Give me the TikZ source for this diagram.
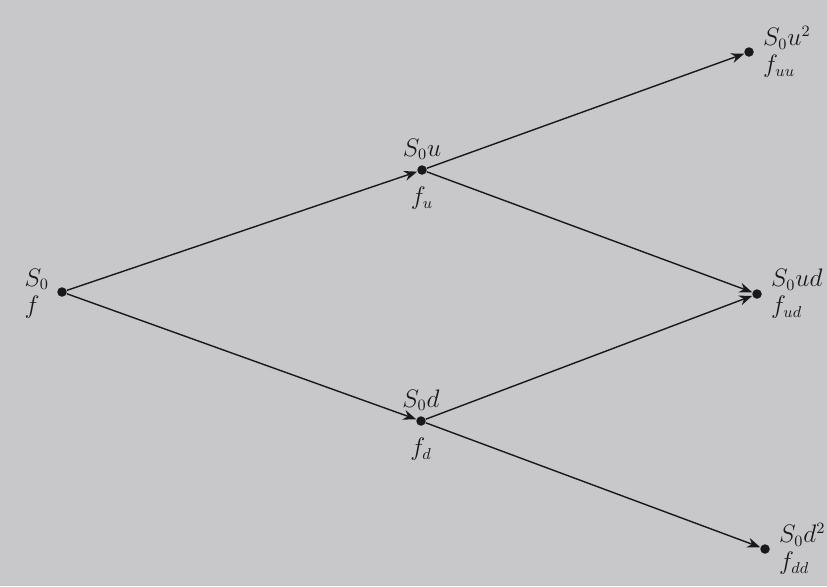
\documentclass[tikz,border=0pt]{standalone}
\usepackage{tikz}
\usepackage{amsmath}
\usetikzlibrary{arrows.meta,positioning}
\definecolor{PaperGray}{RGB}{200,199,201}
\definecolor{InkDark}{RGB}{25,25,28}

\begin{document}
\begin{tikzpicture}[
  x=0.02cm, y=-0.02cm,
  node distance=0.1cm and 0.12cm,
  dot/.style={
    circle, fill=InkDark, draw=none, inner sep=0pt, minimum size=0.19cm
  },
  vallabel/.style={
    inner sep=1pt, align=left, text=InkDark, font=\fontsize{13.5}{15.5}\selectfont
  },
  arr/.style={-{Stealth[length=2.6mm,width=2mm]}, line width=0.8pt, InkDark}
]

% --- Background (photographed page)
\fill[PaperGray] (0,0) rectangle (827,586);
\useasboundingbox (0,0) rectangle (827,586);

% --- Tree nodes
\node[dot] (s0)  at (62, 292)  {};
\node[dot] (su)  at (422, 170) {};
\node[dot] (sd)  at (421, 421) {};
\node[dot] (suu) at (749, 52)  {};
\node[dot] (sud) at (757, 294) {};
\node[dot] (sdd) at (765, 549) {};

% --- Arrows: first step
\draw[arr] (s0) -- (su);
\draw[arr] (s0) -- (sd);

% --- Arrows: second step
\draw[arr] (su) -- (suu);
\draw[arr] (su) -- (sud);
\draw[arr] (sd) -- (sud);
\draw[arr] (sd) -- (sdd);

% --- Labels
\node[vallabel, left=0.12cm of s0, yshift=-0.03cm] {$S_0$\\$f$};
\node[vallabel, above=0.06cm of su] {$S_0u$};
\node[vallabel, below=0.2cm of su] {$f_u$};
\node[vallabel, above=0.06cm of sd] {$S_0d$};
\node[vallabel, below=0.2cm of sd] {$f_d$};
\node[vallabel, right=0.14cm of suu] {$S_0u^2$\\$f_{uu}$};
\node[vallabel, right=0.14cm of sud] {$S_0ud$\\$f_{ud}$};
\node[vallabel, right=0.14cm of sdd] {$S_0d^2$\\$f_{dd}$};

\end{tikzpicture}
\end{document}
